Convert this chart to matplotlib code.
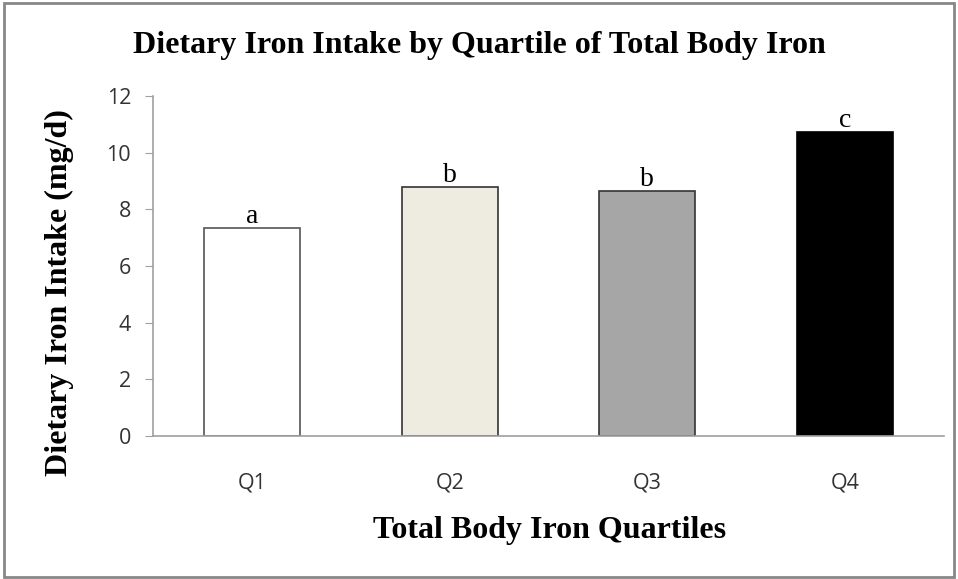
import matplotlib
matplotlib.use("Agg")
import matplotlib.pyplot as plt
from matplotlib.patches import Rectangle

categories = ["Q1", "Q2", "Q3", "Q4"]
values = [7.35, 8.8, 8.65, 10.75]
letters = ["a", "b", "b", "c"]
colors = ["#FFFFFF", "#EEECE1", "#A6A6A6", "#000000"]
edgecolors = ["#555555", "#333333", "#333333", "#000000"]
yticks = [0, 2, 4, 6, 8, 10, 12]

fig = plt.figure(figsize=(9.58, 5.79), dpi=100)
fig.patches.append(Rectangle((0.004, 0.004), 0.992, 0.990, transform=fig.transFigure,
                             fill=False, edgecolor="#878787", linewidth=2))
ax = fig.add_axes([0.160, 0.247, 0.825, 0.587])

x = range(len(categories))
bars = ax.bar(x, values, width=0.485, color=colors, edgecolor=edgecolors, linewidth=1.2, zorder=2)
for xi, v, lt in zip(x, values, letters):
    ax.text(xi, v - 0.05, lt, ha="center", va="bottom", fontsize=20,
            family="Liberation Serif", zorder=3)

ax.set_xlim(-0.5, 3.5)
ax.set_ylim(0, 12)
ax.set_yticks(yticks)
ax.set_xticks(list(x))
ax.set_xticklabels(categories)
for s in ["top", "right"]:
    ax.spines[s].set_visible(False)
for s in ["left", "bottom"]:
    ax.spines[s].set_color("#A0A0A0")
    ax.spines[s].set_linewidth(1.2)
ax.tick_params(axis="y", direction="out", length=6, color="#A0A0A0", labelsize=15.5,
               labelcolor="#333333", pad=10)
ax.tick_params(axis="x", length=0, labelsize=15.5, labelcolor="#333333", pad=26)
for lab in ax.get_xticklabels() + ax.get_yticklabels():
    lab.set_family("Open Sans")

fig.text(0.5, 0.921, "Dietary Iron Intake by Quartile of Total Body Iron", ha="center", va="center",
         fontsize=23, fontweight="bold", family="Liberation Serif")
fig.text(0.574, 0.083, "Total Body Iron Quartiles", ha="center", va="center",
         fontsize=23, fontweight="bold", family="Liberation Serif")
fig.text(0.062, 0.495, "Dietary Iron Intake (mg/d)", ha="center", va="center", rotation=90,
         fontsize=23, fontweight="bold", family="Liberation Serif")

fig.savefig("out.png", dpi=100)
